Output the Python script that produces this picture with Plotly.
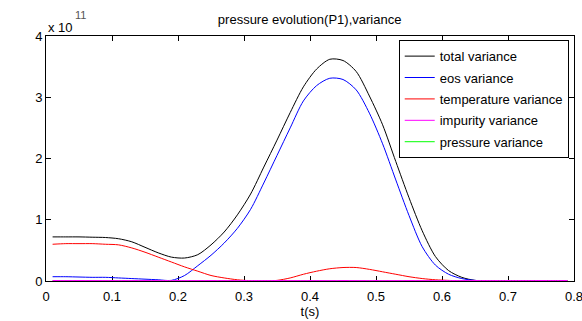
import plotly.graph_objects as go

# time axis (s)
t = [0.01, 0.03, 0.05, 0.07, 0.09, 0.11, 0.13, 0.15, 0.17, 0.19,
     0.21, 0.23, 0.25, 0.27, 0.29, 0.31, 0.33, 0.35, 0.37, 0.39,
     0.41, 0.43, 0.45, 0.47, 0.49, 0.51, 0.53, 0.55, 0.57, 0.59,
     0.61, 0.63, 0.65, 0.67, 0.69, 0.71, 0.73, 0.75, 0.77, 0.79]

# variances in units of 1e11
total_var = [0.72, 0.72, 0.72, 0.715, 0.71, 0.69, 0.64, 0.55, 0.46, 0.39,
             0.375, 0.43, 0.59, 0.80, 1.08, 1.42, 1.86, 2.30, 2.75, 3.17,
             3.46, 3.62, 3.60, 3.42, 3.02, 2.55, 1.95, 1.36, 0.82, 0.40,
             0.17, 0.06, 0.01, 0.0, 0.0, 0.0, 0.0, 0.0, 0.0, 0.0]

eos_var = [0.07, 0.07, 0.065, 0.06, 0.06, 0.05, 0.04, 0.03, 0.02, 0.01,
           0.09, 0.25, 0.42, 0.62, 0.86, 1.17, 1.60, 2.05, 2.50, 2.94,
           3.19, 3.31, 3.29, 3.12, 2.74, 2.24, 1.65, 1.07, 0.56, 0.26,
           0.11, 0.04, 0.01, 0.0, 0.0, 0.0, 0.0, 0.0, 0.0, 0.0]

temp_var = [0.60, 0.61, 0.61, 0.61, 0.60, 0.59, 0.54, 0.47, 0.39, 0.31,
            0.23, 0.16, 0.09, 0.05, 0.02, 0.005, 0.0, 0.01, 0.05, 0.11,
            0.16, 0.20, 0.22, 0.22, 0.19, 0.15, 0.11, 0.07, 0.04, 0.02,
            0.01, 0.0, 0.0, 0.0, 0.0, 0.0, 0.0, 0.0, 0.0, 0.0]

impurity_var = [0.008] * 40
pressure_var = [0.004] * 40

x_ticks = [0, 0.1, 0.2, 0.3, 0.4, 0.5, 0.6, 0.7, 0.8]
x_tick_labels = ["0", "0.1", "0.2", "0.3", "0.4", "0.5", "0.6", "0.7", "0.8"]
y_ticks = [0, 1, 2, 3, 4]
y_tick_labels = ["0", "1", "2", "3", "4"]

FONT = "Liberation Sans, Arial, Helvetica, sans-serif"

fig = go.Figure()
series = [
    ("total variance", total_var, "#000000", 1),
    ("eos variance", eos_var, "#0000ff", 2),
    ("temperature variance", temp_var, "#ff0000", 3),
    ("pressure variance", pressure_var, "#00ff00", 5),
    ("impurity variance", impurity_var, "#ff00ff", 4),
]
for name, vals, col, rank in series:
    fig.add_trace(go.Scatter(
        x=t, y=vals, name=name, mode="lines",
        line=dict(color=col, width=1, shape="spline", smoothing=0.8),
        legendrank=rank, legendgroup=name,
    ))

axis_common = dict(
    showgrid=False, zeroline=False, showline=True, linecolor="#000000",
    linewidth=1, mirror="ticks", ticks="inside", ticklen=5,
    tickcolor="#000000", tickwidth=1, layer="below traces",
    ticklabeloverflow="allow", automargin=False,
    tickfont=dict(family=FONT, size=13, color="#000000"),
)

fig.update_layout(
    width=582, height=321,
    margin=dict(l=46, r=8, t=36, b=40, autoexpand=False),
    paper_bgcolor="white", plot_bgcolor="white",
    font=dict(family=FONT, size=13, color="#000000"),
    title=dict(text="pressure evolution(P1),variance", x=0.532, xanchor="center",
               y=0.94, yanchor="middle", font=dict(family=FONT, size=13)),
    xaxis=dict(range=[0, 0.8], tickvals=x_ticks, ticktext=x_tick_labels,
               ticklabelstandoff=3,
               title=dict(text="t(s)", standoff=4, font=dict(family=FONT, size=13)),
               **axis_common),
    yaxis=dict(range=[0, 4], tickvals=y_ticks, ticktext=y_tick_labels, **axis_common),
    legend=dict(x=0.99, y=0.983, xanchor="right", yanchor="top",
                bordercolor="#000000", borderwidth=1, bgcolor="white",
                font=dict(family=FONT, size=13), tracegroupgap=1.5,
                traceorder="grouped"),
    showlegend=True,
)

fig.add_annotation(text="x 10", xref="paper", yref="paper",
                   x=0, y=1.033, xanchor="left", yanchor="middle", showarrow=False,
                   font=dict(family=FONT, size=13))
fig.add_annotation(text="11", xref="paper", yref="paper",
                   x=0.0517, y=1.086, xanchor="left", yanchor="middle", showarrow=False,
                   font=dict(family=FONT, size=11, color="#555555"))

fig.write_html(
    "out.html",
    config={"displayModeBar": False},
    post_script="document.body.style.margin='0';document.body.style.padding='0';",
)
